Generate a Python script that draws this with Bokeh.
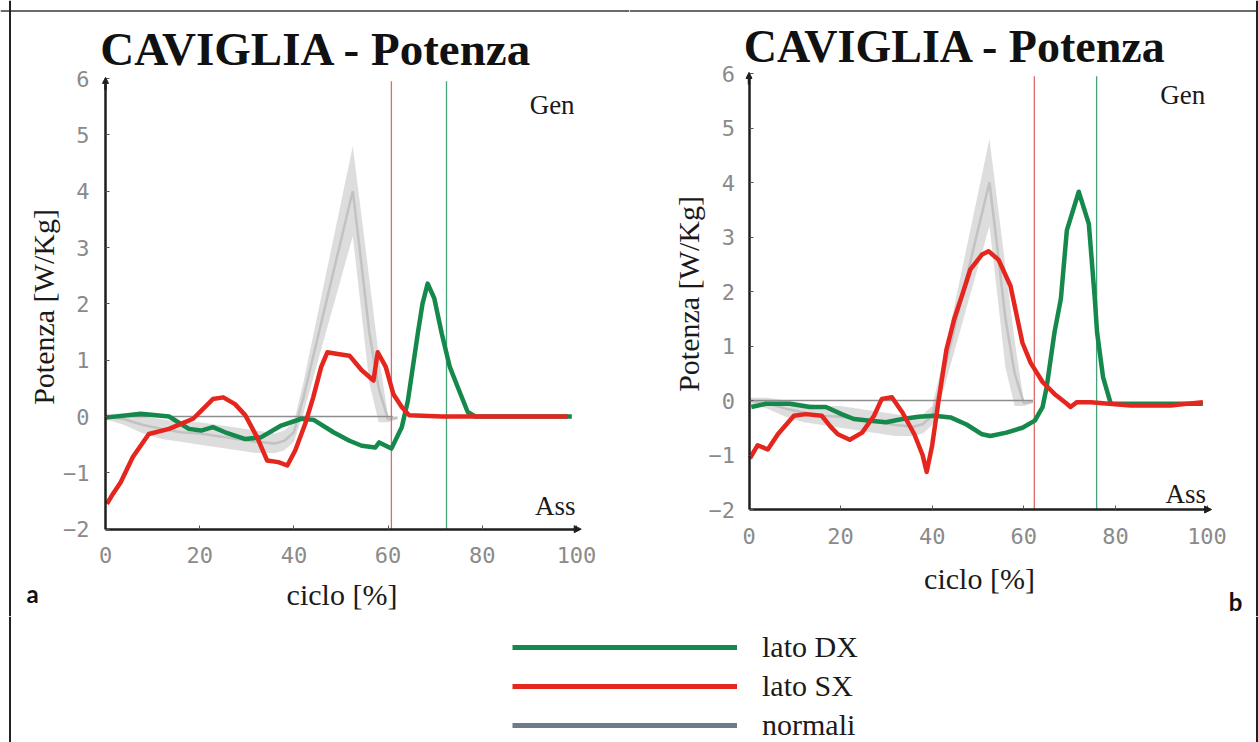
import numpy as np
from bokeh.plotting import figure
from bokeh.models import Label, Legend, LegendItem, Range1d, FixedTicker, Span, Arrow, NormalHead
from bokeh.layouts import column, row
from bokeh.embed import file_html
from bokeh.resources import INLINE

# ---------------- data ----------------
x_ticks = [0, 20, 40, 60, 80, 100]
y_ticks = [-2, -1, 0, 1, 2, 3, 4, 5, 6]
y_tick_labels = {-2: "\u22122", -1: "\u22121"}

# normal band (shared by both panels)
norm_x = [0, 4, 8, 12, 16, 20, 24, 28, 32, 36, 38, 40, 42, 44, 46, 48, 50, 52, 52.5, 54, 56, 58, 60, 62]
norm_upper = [0.05, 0.05, 0.0, -0.05, -0.1, -0.1, -0.15, -0.2, -0.25, -0.3, -0.25, -0.1, 0.6, 1.4, 2.2, 3.0, 3.8, 4.6, 4.8, 3.8, 2.45, 1.1, 0.0, 0.0]
norm_lower = [-0.05, -0.15, -0.3, -0.4, -0.45, -0.5, -0.55, -0.6, -0.65, -0.65, -0.6, -0.45, 0.05, 0.65, 1.25, 1.85, 2.45, 3.05, 3.2, 2.1, 0.6, -0.1, -0.1, -0.05]
norm_mean = [0.0, -0.05, -0.15, -0.22, -0.28, -0.3, -0.35, -0.4, -0.45, -0.48, -0.43, -0.28, 0.33, 1.03, 1.73, 2.43, 3.13, 3.83, 4.0, 2.95, 1.5, 0.5, -0.05, -0.02]

# panel a
green_a_x = [0, 7.5, 13.5, 17.7, 20.3, 22.8, 25.4, 29.7, 33, 37.3, 41.6, 44.2, 48.4, 51.8, 54.4, 57.3, 58.1, 60.7, 62.9, 64.2, 66.3, 67.3, 68.4, 69.8, 71.4, 73.1, 74.8, 76.9, 78.5, 99]
green_a_y = [-0.02, 0.05, 0.0, -0.22, -0.25, -0.19, -0.28, -0.4, -0.37, -0.16, -0.04, -0.06, -0.28, -0.43, -0.52, -0.55, -0.46, -0.57, -0.19, 0.28, 1.47, 2.0, 2.36, 2.1, 1.47, 0.88, 0.52, 0.08, 0.0, 0.0]
red_a_x = [0.3, 1.6, 3.2, 5.8, 9.2, 13.5, 16, 18.6, 20.3, 22.8, 25, 27.5, 29.7, 32.2, 34.3, 36.7, 38.6, 40.3, 42.4, 44.1, 45.8, 47.1, 49.3, 51.8, 54.4, 56.9, 57.8, 59.5, 61.1, 62.9, 64.5, 71.4, 98.2]
red_a_y = [-1.55, -1.37, -1.17, -0.72, -0.31, -0.22, -0.13, -0.04, 0.1, 0.31, 0.34, 0.22, 0.02, -0.37, -0.78, -0.81, -0.87, -0.6, -0.13, 0.34, 0.88, 1.14, 1.11, 1.08, 0.82, 0.64, 1.14, 0.88, 0.4, 0.17, 0.02, 0.0, 0.0]
toeoff_a_sx = 60.7
toeoff_a_dx = 72.4
zero_a_end = 61

# panel b
green_b_x = [0.5, 3.7, 8.9, 13.3, 16.8, 20.2, 22.9, 26.5, 29.9, 33.5, 37, 40.5, 44, 47.5, 50.9, 52.7, 56.2, 59.7, 62.4, 64.1, 65, 66.7, 68.1, 69.4, 72, 74.2, 75.5, 76, 77.3, 79, 99.1]
green_b_y = [-0.12, -0.06, -0.06, -0.12, -0.12, -0.25, -0.34, -0.37, -0.4, -0.34, -0.3, -0.28, -0.31, -0.44, -0.62, -0.65, -0.59, -0.5, -0.37, -0.12, 0.25, 1.25, 1.87, 3.12, 3.83, 3.24, 1.87, 1.25, 0.43, -0.06, -0.06]
red_b_x = [0.2, 1.9, 4.1, 6.3, 9.8, 12.4, 15.9, 17.7, 19.4, 22, 24.7, 27.3, 29, 31.2, 33.5, 36.1, 37.9, 38.8, 40, 41.4, 43.1, 44.8, 46.6, 48.3, 50.9, 52.3, 54.5, 57.1, 59.7, 61.5, 64.1, 66.7, 69.4, 70.2, 71.6, 74.6, 83.3, 92.1, 99.1]
red_b_y = [-1.06, -0.82, -0.9, -0.62, -0.28, -0.25, -0.28, -0.47, -0.62, -0.72, -0.59, -0.28, 0.03, 0.06, -0.22, -0.62, -1.0, -1.31, -0.82, 0.0, 0.93, 1.49, 1.95, 2.4, 2.68, 2.74, 2.58, 2.1, 1.06, 0.69, 0.34, 0.12, -0.06, -0.12, -0.03, -0.03, -0.09, -0.09, -0.03]
toeoff_b_sx = 62.3
toeoff_b_dx = 75.9
zero_b_end = 62

title_text = "CAVIGLIA - Potenza"
x_label = "ciclo [%]"
y_label = "Potenza [W/Kg]"
legend_labels = ["lato DX", "lato SX", "normali"]

# ---------------- style ----------------
GREEN = "#15884b"
RED = "#e5261f"
GRAY = "#6f7b8b"
SERIF = "Liberation Serif"
MONO = "DejaVu Sans Mono"
AXIS_COLOR = "#1e1e1e"
PANEL_H = 616
STRIP_H = 126


def panel(width, x0_px, sx, y0_px, sy, gx, gy, rx, ry, t_sx, t_dx, zero_end,
          xtick_standoff, xlabel_standoff, ytick_standoff, ylabel_standoff,
          title_pos, title_size, letter, letter_pos, gen_y, ass_y, left_border, right_border):
    # frame covers the whole canvas; ranges chosen so that 0 lands at x0_px / y0_px
    xr = Range1d(-x0_px / sx, (width - x0_px) / sx)
    yr = Range1d(-(PANEL_H - y0_px) / sy, y0_px / sy)
    p = figure(width=width, height=PANEL_H, output_backend="svg", toolbar_location=None,
               x_range=xr, y_range=yr,
               min_border_left=0, min_border_right=0, min_border_top=0, min_border_bottom=0)
    p.title.visible = False
    p.outline_line_color = None
    p.grid.visible = False
    p.background_fill_color = "white"
    p.border_fill_color = "white"

    p.xaxis.fixed_location = -2
    p.yaxis.fixed_location = 0
    p.xaxis.bounds = (0, 100.5)
    p.yaxis.bounds = (-2, 5.9)
    for ax in (p.xaxis[0], p.yaxis[0]):
        ax.axis_line_color = AXIS_COLOR
        ax.axis_line_width = 2.5
        ax.major_tick_in = 4
        ax.major_tick_out = 0
        ax.major_tick_line_color = "#555555"
        ax.minor_tick_line_color = None
        ax.major_label_text_font = MONO
        ax.major_label_text_font_size = "22px"
        ax.major_label_text_color = "#8a8a8a"
        ax.axis_label_text_font = SERIF
        ax.axis_label_text_font_size = "30px"
        ax.axis_label_text_font_style = "normal"
        ax.axis_label_text_color = "#1a1a1a"
    p.xaxis.ticker = FixedTicker(ticks=x_ticks)
    p.yaxis.ticker = FixedTicker(ticks=y_ticks)
    p.yaxis.major_label_overrides = y_tick_labels
    p.xaxis.axis_label = x_label
    p.yaxis.axis_label = y_label
    p.xaxis.major_label_standoff = xtick_standoff
    p.xaxis.axis_label_standoff = xlabel_standoff
    p.yaxis.major_label_standoff = ytick_standoff
    p.yaxis.axis_label_standoff = ylabel_standoff

    # axis arrow heads
    p.add_layout(Arrow(end=NormalHead(size=7, fill_color=AXIS_COLOR, line_color=AXIS_COLOR),
                       x_start=100, y_start=-2, x_end=101, y_end=-2,
                       line_color=AXIS_COLOR, line_width=2.5))
    p.add_layout(Arrow(end=NormalHead(size=6, fill_color=AXIS_COLOR, line_color=AXIS_COLOR),
                       x_start=0, y_start=5.8, x_end=0, y_end=6.02,
                       line_color=AXIS_COLOR, line_width=2.5))

    # normals
    p.varea(x=norm_x, y1=norm_lower, y2=norm_upper, fill_color="#d2d2d2", fill_alpha=0.75)
    p.line(norm_x, norm_mean, line_color="#c2c2c2", line_width=2.5)
    p.line([0, zero_end], [0, 0], line_color="#8e8e8e", line_width=1.3)

    # toe-off markers
    p.segment(x0=[t_sx], y0=[-2], x1=[t_sx], y1=[5.95], line_color="#e06a6a", line_width=1.3)
    p.segment(x0=[t_dx], y0=[-2], x1=[t_dx], y1=[5.95], line_color="#45a37a", line_width=1.3)

    # curves
    p.line(gx, gy, line_color=GREEN, line_width=4.5, line_join="round")
    p.line(rx, ry, line_color=RED, line_width=4.5, line_join="round")

    p.add_layout(Label(x=99.6, y=gen_y, text="Gen", text_font=SERIF, text_font_size="27px",
                       text_align="right", text_baseline="middle", text_color="#1a1a1a"))
    p.add_layout(Label(x=99.8, y=ass_y, text="Ass", text_font=SERIF, text_font_size="27px",
                       text_align="right", text_baseline="middle", text_color="#1a1a1a"))

    p.add_layout(Label(x=title_pos[0], y=title_pos[1], x_units="screen", y_units="screen",
                       text=title_text, text_font=SERIF, text_font_size=title_size,
                       text_font_style="bold", text_align="center", text_baseline="middle",
                       text_color="#111111"))
    p.add_layout(Label(x=letter_pos[0], y=letter_pos[1], x_units="screen", y_units="screen",
                       text=letter, text_font="Lato", text_font_size="24px",
                       text_font_style="bold", text_align="center", text_baseline="middle",
                       text_color="#111111"))

    # picture frame
    p.add_layout(Span(location=PANEL_H - 10.5, location_units="screen", dimension="width",
                      line_color="#6a6a6a", line_width=2))
    if left_border:
        p.add_layout(Span(location=9.5, location_units="screen", dimension="height",
                          line_color="#222222", line_width=2))
    if right_border:
        p.add_layout(Span(location=width - 1.5, location_units="screen", dimension="height",
                          line_color="#222222", line_width=2))
    return p


pa = panel(629, 105, 4.71, 416, 56.33,
           green_a_x, green_a_y, red_a_x, red_a_y, toeoff_a_sx, toeoff_a_dx, zero_a_end,
           18, 11, 16, 0, (316, PANEL_H - 48), "47px", "a", (32, PANEL_H - 593), 5.53, -1.58,
           True, False)
pb = panel(629, 119.5, 4.58, 400, 54.5,
           green_b_x, green_b_y, red_b_x, red_b_y, toeoff_b_sx, toeoff_b_dx, zero_b_end,
           18, 15, 14, 1, (326, PANEL_H - 46), "46px", "b", (606, PANEL_H - 601), 5.6, -1.72,
           False, True)

# legend strip
STRIP_W = 1258
pl = figure(width=STRIP_W, height=STRIP_H, output_backend="svg", toolbar_location=None,
            x_range=Range1d(0, 1), y_range=Range1d(0, 1),
            min_border_left=0, min_border_right=0, min_border_top=0, min_border_bottom=0)
pl.title.visible = False
pl.axis.visible = False
pl.grid.visible = False
pl.outline_line_color = None
pl.background_fill_color = "white"
pl.border_fill_color = "white"
nan = np.array([np.nan])
rg = pl.line(x=nan, y=nan, line_color=GREEN, line_width=5)
rr = pl.line(x=nan, y=nan, line_color=RED, line_width=5)
rn = pl.line(x=nan, y=nan, line_color=GRAY, line_width=5)
leg = Legend(items=[LegendItem(label=legend_labels[0], renderers=[rg]),
                    LegendItem(label=legend_labels[1], renderers=[rr]),
                    LegendItem(label=legend_labels[2], renderers=[rn])],
             location=(512, 0), orientation="vertical",
             glyph_width=225, glyph_height=34, label_height=34, spacing=5,
             label_standoff=25, padding=0, margin=0,
             label_text_font=SERIF, label_text_font_size="30px", label_text_color="#1a1a1a",
             border_line_color=None, background_fill_alpha=0)
pl.add_layout(leg)
pl.add_layout(Span(location=9.5, location_units="screen", dimension="height",
                   line_color="#222222", line_width=2))
pl.add_layout(Span(location=STRIP_W - 1.5, location_units="screen", dimension="height",
                   line_color="#222222", line_width=2))

layout = column(row(pa, pb), pl)

open("out.html", "w").write(file_html(layout, INLINE))
